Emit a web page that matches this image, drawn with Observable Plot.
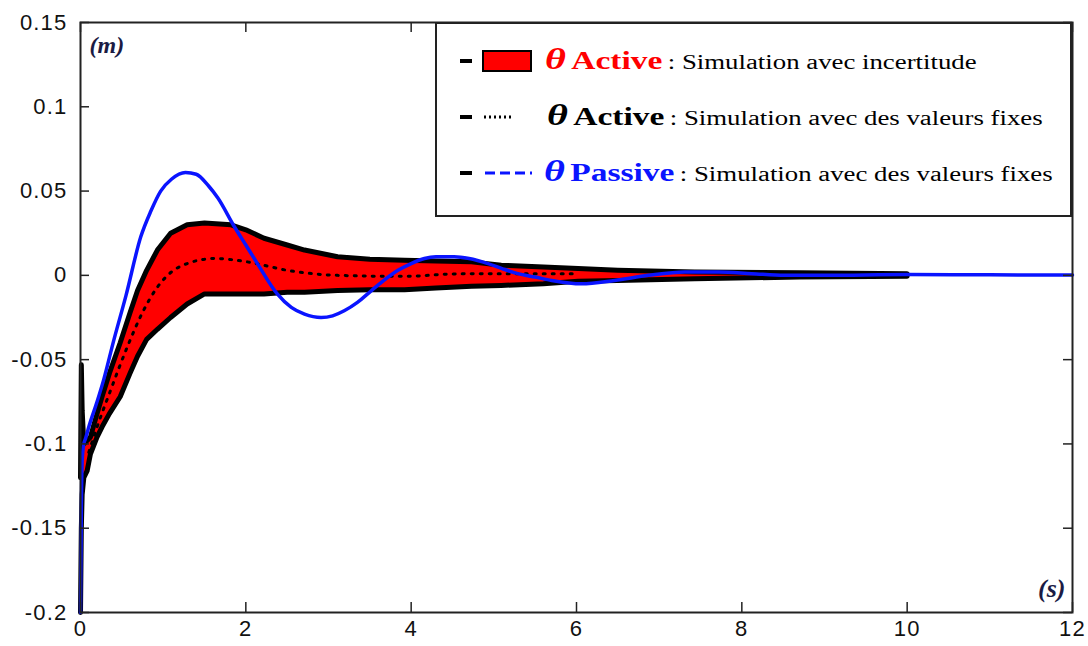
<!DOCTYPE html>
<html>
<head>
<meta charset="utf-8">
<script src="https://cdn.jsdelivr.net/npm/d3@7"></script>
<script src="https://cdn.jsdelivr.net/npm/@observablehq/plot@0.6"></script>
<style>
  body { margin: 0; background: #fff; }
  #wrap { position: relative; width: 1088px; height: 646px; }
  #legend { position: absolute; left: 435px; top: 22px; width: 633px; height: 191px;
    border: 2px solid #222; background: #fff; font-family: "Liberation Serif", "DejaVu Serif", serif; }
  .row { position: absolute; left: 0; height: 30px; width: 100%; }
  .dash { position: absolute; left: 23px; top: 13px; width: 12px; height: 4px; background: #000; }
  .sym { position: absolute; left: 45px; top: 0; }
  .txt { position: absolute; top: -4px; white-space: nowrap; line-height: 34px; transform: scaleX(1.34); transform-origin: left center; }
  .th { font-size: 30px; font-weight: bold; font-style: italic; }
  .nm { font-size: 25px; font-weight: bold; }
  .ds { font-size: 20px; color: #000; }
  #chart svg [aria-label="y-axis tick label"] text,
  #chart svg [aria-label="x-axis tick label"] text { letter-spacing: 1.2px; }
</style>
</head>
<body>
<div id="wrap">
  <div id="chart"></div>
  <div id="legend"></div>
</div>
<script>
// ---- data ----
const xTicks = [0, 2, 4, 6, 8, 10, 12];
const yTicks = [0.15, 0.1, 0.05, 0, -0.05, -0.1, -0.15, -0.2];
const yTickLabels = ["0.15", "0.1", "0.05", "0", "-0.05", "-0.1", "-0.15", "-0.2"];

// Passive (blue) simulation with fixed values
const passiveT = [0, 0.01, 0.02, 0.04, 0.06, 0.1, 0.2, 0.28, 0.4, 0.55, 0.73, 0.85, 0.97, 1.1, 1.27, 1.4, 1.55, 1.66, 1.86, 2.0, 2.14, 2.38, 2.55, 2.71, 2.91, 3.05, 3.19, 3.35, 3.52, 3.84, 4.0, 4.16, 4.3, 4.52, 4.7, 4.93, 5.1, 5.29, 5.5, 5.7, 6.06, 6.46, 6.87, 7.31, 7.72, 8.12, 8.52, 9, 10, 11, 12];
const passiveV = [-0.2, -0.14, -0.11, -0.1, -0.097, -0.09, -0.075, -0.062, -0.039, -0.012, 0.023, 0.038, 0.050, 0.057, 0.061, 0.060, 0.053, 0.046, 0.029, 0.018, 0.007, -0.011, -0.019, -0.023, -0.025, -0.024, -0.021, -0.016, -0.009, 0.003, 0.007, 0.010, 0.011, 0.011, 0.010, 0.007, 0.004, 0.001, -0.001, -0.003, -0.005, -0.003, 0, 0.002, 0.002, 0.001, 0, 0, 0.0005, 0.0003, 0.0002];

// Active with uncertainty (band)
const bandT = [0, 0.01, 0.02, 0.04, 0.08, 0.12, 0.2, 0.26, 0.35, 0.48, 0.6, 0.69, 0.8, 0.93, 1.09, 1.29, 1.5, 1.82, 2.0, 2.22, 2.5, 2.71, 3.11, 3.5, 3.92, 4.3, 4.73, 5.09, 5.6, 6.02, 6.5, 7.43, 8.7, 10];
const bandUpper = [-0.12, -0.053, -0.08, -0.1, -0.098, -0.096, -0.082, -0.072, -0.058, -0.040, -0.022, -0.009, 0.003, 0.015, 0.025, 0.030, 0.031, 0.030, 0.027, 0.022, 0.018, 0.015, 0.011, 0.0095, 0.009, 0.0085, 0.008, 0.006, 0.005, 0.004, 0.003, 0.002, 0.0015, 0.001];
const bandLower = [-0.2, -0.15, -0.13, -0.12, -0.116, -0.106, -0.096, -0.09, -0.082, -0.072, -0.058, -0.048, -0.038, -0.032, -0.025, -0.017, -0.011, -0.011, -0.011, -0.011, -0.010, -0.010, -0.009, -0.0085, -0.0085, -0.0075, -0.0065, -0.006, -0.005, -0.0035, -0.003, -0.002, -0.001, -0.0005];

// Active with fixed values (dotted)
const activeT = [0.1, 0.2, 0.35, 0.57, 0.75, 0.93, 1.1, 1.29, 1.62, 2.02, 2.5, 3.11, 3.92, 4.5, 5.0, 5.5, 6.0];
const activeV = [-0.105, -0.09, -0.07, -0.042, -0.022, -0.007, 0.002, 0.007, 0.010, 0.008, 0.003, 0.0, -0.0006, 0.0008, 0.001, 0.001, 0.001];

// ---- tables ----
const passive = passiveT.map((t, i) => ({t, v: passiveV[i]}));
const band = bandT.map((t, i) => ({t, lo: bandLower[i], hi: bandUpper[i]}));
const active = activeT.map((t, i) => ({t, v: activeV[i]}));

const W = 1088, H = 646, mt = 22, mb = 34, ml = 80, mr = 16;
const plotH = H - mt - mb, plotW = W - ml - mr;
const fmtY = d => yTickLabels[yTicks.indexOf(d)];

const chart = Plot.plot({
  width: W, height: H,
  marginTop: mt, marginBottom: mb, marginLeft: ml, marginRight: mr,
  x: {domain: [0, 12], label: null},
  y: {domain: [-0.2, 0.15], label: null},
  style: {fontFamily: "'Liberation Sans', Arial, sans-serif", fontSize: "22px", color: "#111", background: "#fff"},
  marks: [
    Plot.areaY(band, {x: "t", y1: "lo", y2: "hi", fill: "#ff0000", curve: "linear"}),
    Plot.lineY(band, {x: "t", y: "hi", stroke: "#000", strokeWidth: 5}),
    Plot.lineY(band, {x: "t", y: "lo", stroke: "#000", strokeWidth: 5}),
    Plot.lineY(active, {x: "t", y: "v", stroke: "#000", strokeWidth: 3, strokeDasharray: "2,7", curve: "monotone-x"}),
    Plot.lineY(passive, {x: "t", y: "v", stroke: "#0a14ff", strokeWidth: 3.5, curve: "monotone-x"}),
    Plot.frame({stroke: "#222", strokeWidth: 2}),
    Plot.ruleX(xTicks, {insetTop: plotH - 10, stroke: "#222", strokeWidth: 1.5}),
    Plot.ruleX(xTicks, {insetBottom: plotH - 10, stroke: "#222", strokeWidth: 1.5}),
    Plot.ruleY(yTicks, {insetRight: plotW - 9, stroke: "#222", strokeWidth: 1.5}),
    Plot.ruleY(yTicks, {insetLeft: plotW - 9, stroke: "#222", strokeWidth: 1.5}),
    Plot.axisX(xTicks, {tickSize: 0, tickPadding: 8, tickFormat: d => String(d), fontSize: 22, label: null}),
    Plot.axisY(yTicks, {tickSize: 0, tickPadding: 13, tickFormat: fmtY, fontSize: 22, label: null}),
    Plot.text(["(m)"], {frameAnchor: "top-left", dx: 9, dy: 13, textAnchor: "start", fontFamily: "'Liberation Serif', serif", fontWeight: "bold", fontStyle: "italic", fontSize: 24, fill: "#1b1b44"}),
    Plot.text(["(s)"], {frameAnchor: "bottom-right", dx: -7, dy: -16, textAnchor: "end", fontFamily: "'Liberation Serif', serif", fontWeight: "bold", fontStyle: "italic", fontSize: 26, fill: "#1b1b44"})
  ]
});
document.getElementById("chart").append(chart);

// ---- legend ----
const legendItems = [
  {top: 22, symbol: "rect", color: "#ff0000", name: "Active", desc: ": Simulation avec incertitude", thLeft: 108},
  {top: 78, symbol: "dots", color: "#000000", name: "Active", desc: ": Simulation avec des valeurs fixes", thLeft: 110},
  {top: 134, symbol: "dash", color: "#0a14ff", name: "Passive", desc: ": Simulation avec des valeurs fixes", thLeft: 107}
];
const leg = document.getElementById("legend");
legendItems.forEach(it => {
  const row = document.createElement("div");
  row.className = "row";
  row.style.top = it.top + "px";
  let sym = "";
  if (it.symbol === "rect") sym = `<svg class="sym" width="52" height="30"><rect x="1" y="5" width="48" height="20" fill="${it.color}" stroke="#000" stroke-width="2"/></svg>`;
  if (it.symbol === "dots") sym = `<svg class="sym" width="52" height="30"><line x1="2" x2="32" y1="15" y2="15" stroke="#000" stroke-width="3" stroke-dasharray="2,3"/></svg>`;
  if (it.symbol === "dash") sym = `<svg class="sym" width="52" height="30"><line x1="3" x2="50" y1="15" y2="15" stroke="${it.color}" stroke-width="3" stroke-dasharray="10,5"/></svg>`;
  row.innerHTML = `<div class="dash"></div>${sym}
    <div class="txt" style="left:${it.thLeft}px"><span class="th" style="color:${it.color}">θ</span> <span class="nm" style="color:${it.color}">${it.name}</span> <span class="ds">${it.desc}</span></div>`;
  leg.append(row);
});
</script>
</body>
</html>
